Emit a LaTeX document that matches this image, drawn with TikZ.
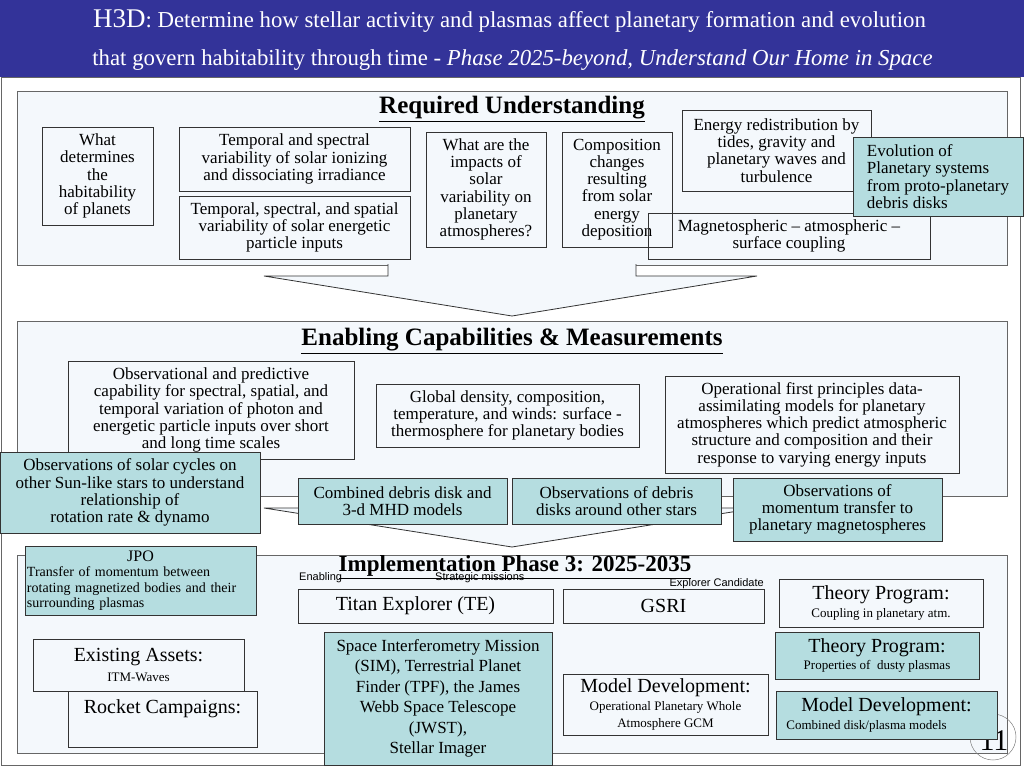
\documentclass[tikz,border=0pt]{standalone}
\usepackage{fontspec}
\setmainfont{Liberation Serif}
\setsansfont{Liberation Sans}
\definecolor{bandblue}{HTML}{333399}
\definecolor{panelfill}{HTML}{F4F8FC}
\definecolor{tealfill}{HTML}{B5DDE0}
\definecolor{edgegrey}{HTML}{666666}
\newcommand{\boxfont}{\fontsize{17}{17.3}\selectfont}
\newcommand{\headfont}{\fontsize{25}{26}\selectfont\bfseries}
\newcommand{\bigfont}{\fontsize{20}{20}\selectfont}
\newcommand{\subfont}{\fontsize{13}{12.5}\selectfont}
\newcommand{\tagfont}{\fontsize{11}{11}\selectfont\sffamily}
\tikzset{
 sz/.style 2 args={minimum width=#1pt, minimum height=#2pt},
 panel/.style={draw=edgegrey, fill=panelfill, line width=0.8pt, inner sep=0pt},
 wbox/.style={draw=black!80, line width=0.8pt, align=center, inner sep=0pt, font=\boxfont},
 tbox/.style={wbox, fill=tealfill},
 heading/.style={font=\headfont, inner sep=0pt},
 tag/.style={font=\tagfont, inner sep=0pt},
 bigarrow/.style={draw=black!80, fill=panelfill, line width=0.8pt}
}
\begin{document}
\begin{tikzpicture}[x=1pt, y=-1pt]
\useasboundingbox (0,0) rectangle (1024,768);
% title band
 \fill[bandblue] (0,0) rectangle (1024,77);
 \node[text=white, font=\fontsize{22.8}{23}\selectfont, inner sep=0pt] (head1) at (509.5,21)
  {{\fontsize{27}{27}\selectfont H3D}: Determine how stellar activity and plasmas affect planetary formation and evolution};
 \node[text=white, font=\fontsize{22.8}{23}\selectfont, inner sep=0pt] (head2) at (512.5,60)
  {that govern habitability through time - \textit{Phase 2025-beyond, Understand Our Home in Space}};
 \draw[edgegrey, line width=0.8pt] (1.5,77.5) rectangle (1020.5,765);
% panels
 \node[panel, sz={990}{174}] (req) at (512,178) {};
 \node[panel, sz={990}{175}] (ena) at (512,408.5) {};
 \node[panel, sz={990}{198}] (imp) at (512,654) {};
 \filldraw[bigarrow] (388,264) -- (388,276) -- (264,276) -- (512,316) -- (757,276) -- (636,276) -- (636,264);
 \filldraw[bigarrow] (388,495) -- (388,508) -- (264,508) -- (512,547) -- (757,508) -- (636,508) -- (636,495);
% required understanding
 \node[heading] (reqtitle) at (512,109) {\underline{Required Understanding}};
 \node[wbox, sz={111}{98}] (hab) at (97.5,176) {What\\determines\\the\\habitability\\of planets};
 \node[wbox, sz={231}{64}] (ion) at (294.5,159) {Temporal and spectral\\variability of solar ionizing\\and dissociating irradiance};
 \node[wbox, sz={231}{63}] (sep) at (294.5,227.5) {Temporal, spectral, and spatial\\variability of solar energetic\\particle inputs};
 \node[wbox, sz={120}{115}] (impacts) at (486,189.5) {What are the\\impacts of\\solar\\variability on\\planetary\\atmospheres?};
 \node[wbox, sz={110}{115}] (comp) at (617,189.5) {Composition\\changes\\resulting\\from solar\\energy\\deposition};
 \node[wbox, sz={189}{81}] (energy) at (776.5,150.5) {Energy redistribution by\\tides, gravity and\\planetary waves and\\turbulence};
 \node[wbox, sz={282}{46}] (magneto) at (789,236) {Magnetospheric -- atmospheric --\\surface coupling};
 \node[tbox, sz={170}{79}, align=left] (evol) at (938,176.5) {Evolution of\\Planetary systems\\from proto-planetary\\debris disks};
% enabling capabilities
 \node[heading] (enatitle) at (512,341) {\underline{Enabling Capabilities \& Measurements}};
 \node[wbox, sz={286}{98}] (obspred) at (211,410) {Observational and predictive\\capability for spectral, spatial, and\\temporal variation of photon and\\energetic particle inputs over short\\and long time scales};
 \node[wbox, sz={263}{63}] (global) at (507.5,415.5) {Global density, composition,\\temperature, and winds: surface -\\thermosphere for planetary bodies};
 \node[wbox, sz={294}{97}] (opfirst) at (812,424.5) {Operational first principles data-\\assimilating models for planetary\\atmospheres which predict atmospheric\\structure and composition and their\\response to varying energy inputs};
 \node[tbox, sz={260}{81}] (solarcyc) at (130,492.5) {Observations of solar cycles on\\other Sun-like stars to understand\\relationship of\\rotation rate \& dynamo};
 \node[tbox, sz={209}{46}] (mhd) at (402.5,501) {Combined debris disk and\\3-d MHD models};
 \node[tbox, sz={209}{46}] (debris) at (616.5,501) {Observations of debris\\disks around other stars};
 \node[tbox, sz={209}{63}] (momentum) at (837.5,509.5) {Observations of\\momentum transfer to\\planetary magnetospheres};
% implementation
 \node[tag, anchor=west] (tagena) at (299,578) {Enabling};
 \node[tag, anchor=west] (tagstrat) at (435,578) {Strategic missions};
 \node[tag, anchor=east] (tagexpl) at (764,584) {Explorer Candidate};
 \node[heading, font=\fontsize{23}{24}\selectfont\bfseries] (imptitle) at (515,567) {\underline{Implementation Phase 3: 2025-2035}};
 \node[tbox, sz={231}{69}, text width=227pt, align=left, font=\fontsize{14}{15.5}\selectfont] (jpo) at (140.5,580.5)
  {\makebox[\linewidth]{\fontsize{16}{16}\selectfont JPO}\\Transfer of momentum between\\rotating magnetized bodies and their\\surrounding plasmas};
 \node[wbox, sz={211}{52}] (assets) at (138.5,665) {{\bigfont Existing Assets:}\\[2pt]{\subfont ITM-Waves}};
 \node[wbox, fill=panelfill, sz={189}{56}] (rocket) at (162.5,719) {};
 \node[font=\bigfont, inner sep=0pt] (rocketlbl) at (162.5,709) {Rocket Campaigns:};
 \node[wbox, sz={255}{34}, font=\bigfont] (titan) at (425.5,606) {Titan Explorer (TE)\hspace*{20pt}};
 \node[tbox, sz={228}{133}, font=\fontsize{17}{20.5}\selectfont] (sim) at (438,698.5) {Space Interferometry Mission\\(SIM), Terrestrial Planet\\Finder (TPF), the James\\Webb Space Telescope\\(JWST),\\Stellar Imager};
 \node[wbox, sz={201}{34}, font=\bigfont] (gsri) at (663.5,606) {GSRI};
 \node[wbox, sz={205}{61}] (modeldev) at (665.5,704.5) {{\bigfont Model Development:}\\{\subfont Operational Planetary Whole}\\{\subfont Atmosphere GCM}};
 \node[wbox, sz={204}{48}] (theory) at (881,603) {{\bigfont Theory Program:}\\{\subfont Coupling in planetary atm.}};
 \node[tbox, sz={204}{47}] (dusty) at (877,655.5) {{\bigfont Theory Program:}\\{\subfont Properties of \ dusty plasmas}};
% page number
 \draw[black!50, line width=0.5pt] (993,737) circle (23pt);
 \node[font=\fontsize{30}{30}\selectfont, inner sep=0pt] (pagenum) at (994,741) {11};
 \node[tbox, sz={221}{48}] (diskmodel) at (886.5,715) {{\bigfont Model Development:}\\{\subfont Combined disk/plasma models\hspace*{40pt}}};
\end{tikzpicture}
\end{document}
